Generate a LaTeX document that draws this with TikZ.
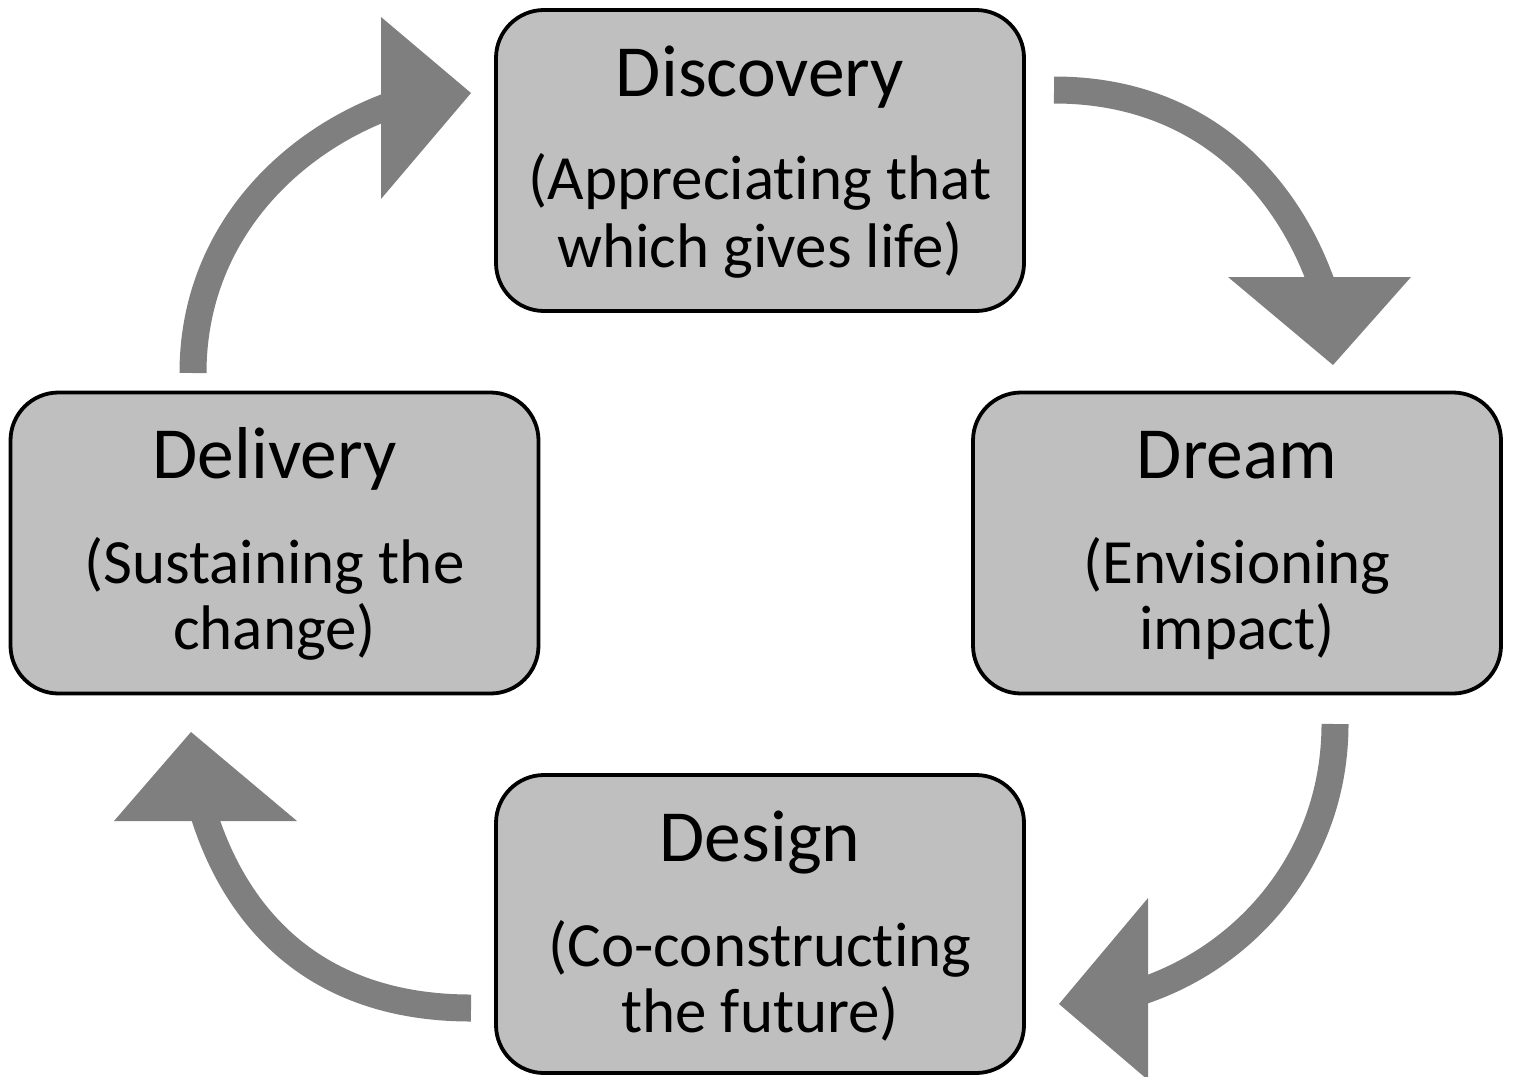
\documentclass[tikz,border=0pt]{standalone}
\usepackage{fontspec}
\setmainfont{Carlito}[RawFeature=-liga]
\definecolor{boxfill}{HTML}{BFBFBF}
\definecolor{arrowgray}{HTML}{7F7F7F}
\begin{document}
\begin{tikzpicture}[x=1pt,y=-1pt,
  stage/.style={draw=black, line width=3.8pt, fill=boxfill, rounded corners=48pt,
    minimum width=528pt, minimum height=301pt, inner sep=0pt},
  titletext/.style={anchor=base, inner sep=0pt, font=\fontsize{73.5}{80}\selectfont},
  subtext/.style={anchor=base, inner sep=0pt, font=\fontsize{63}{69}\selectfont},
  shaft/.style={draw=arrowgray, line width=27pt, line cap=butt},
  arrowhead/.style={fill=arrowgray, draw=none}]
\useasboundingbox (0,0) rectangle (1514,1076);

% boxes
\node[stage] (disc) at (760,160.5) {};
\node[stage] (dream) at (1237,543) {};
\node[stage] (deliv) at (274.5,543) {};
\node[stage, minimum height=298pt] (design) at (760,924) {};

% texts
\node[titletext] (disc-t) at ([yshift=-88pt]disc.north) {Discovery};
\node[subtext] (disc-s1) at ([yshift=-191pt]disc.north) {(Appreciating that};
\node[subtext] (disc-s2) at ([yshift=-259pt]disc.north) {which gives life)};

\node[titletext] (dream-t) at ([yshift=-88pt]dream.north) {Dream};
\node[subtext] (dream-s1) at ([yshift=-193pt]dream.north) {(Envisioning};
\node[subtext] (dream-s2) at ([yshift=-259pt]dream.north) {impact)};

\node[titletext] (deliv-t) at ([yshift=-88pt]deliv.north) {Delivery};
\node[subtext] (deliv-s1) at ([yshift=-193pt]deliv.north) {(Sustaining the};
\node[subtext] (deliv-s2) at ([yshift=-259pt]deliv.north) {change)};

\node[titletext] (design-t) at ([yshift=-88pt]design.north) {Design};
\node[subtext] (design-s1) at ([yshift=-193pt]design.north) {(Co-constructing};
\node[subtext] (design-s2) at ([yshift=-259pt]design.north) {the future)};

% arrow 1: Discovery -> Dream
\coordinate (a1s) at (1054,90);
\coordinate (a1e) at (1319,277);
\draw[shaft] (a1s) .. controls (1200,90) and (1283,182) .. (a1e) -- ++(2.6,6.5);
\fill[arrowhead] (1228,277) -- (1411,277) -- (1333,365) -- cycle;

% arrow 2: Dream -> Design
\coordinate (a2s) at (1335,724);
\coordinate (a2e) at (1148,989);
\draw[shaft] (a2s) .. controls (1335,854) and (1251,952) .. (a2e) -- ++(-6.6,2.4);
\fill[arrowhead] (1148,898) -- (1148,1080) -- (1059,1004) -- cycle;

% arrow 3: Design -> Delivery
\coordinate (a3s) at (471,1008);
\coordinate (a3e) at (206,821);
\draw[shaft] (a3s) .. controls (321,1008) and (241,925) .. (a3e) -- ++(-2.2,-6.6);
\fill[arrowhead] (114,821) -- (297,821) -- (191,732) -- cycle;

% arrow 4: Delivery -> Discovery
\coordinate (a4s) at (193,373);
\coordinate (a4e) at (381,109);
\draw[shaft] (a4s) .. controls (193,243) and (279,150) .. (a4e) -- ++(6.5,-2.6);
\fill[arrowhead] (381,17) -- (381,199) -- (471,93) -- cycle;
\end{tikzpicture}
\end{document}
